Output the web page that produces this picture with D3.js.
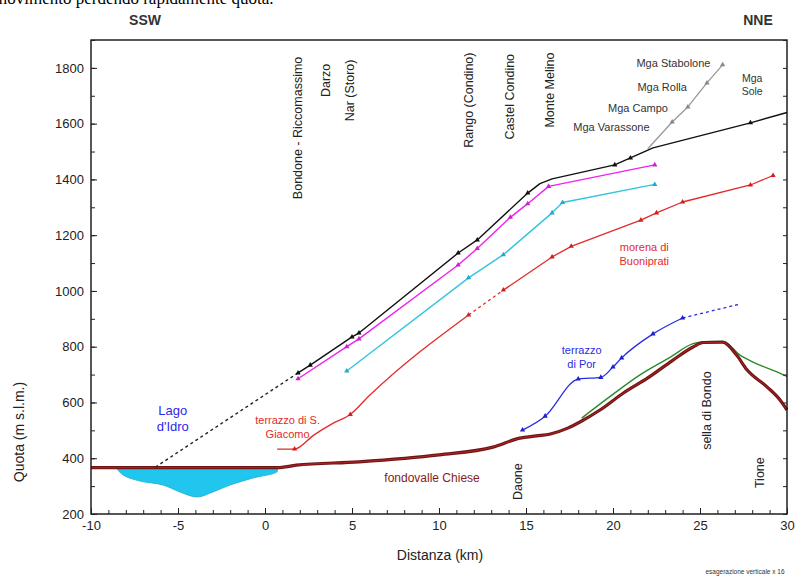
<!DOCTYPE html>
<html>
<head>
<meta charset="utf-8">
<script src="https://cdn.jsdelivr.net/npm/d3@7"></script>
<style>
  body { margin: 0; background: #fff; }
  svg { font-family: "Liberation Sans", Arial, sans-serif; }
</style>
</head>
<body>
<svg width="795" height="578"></svg>
<script>
// profile data: [distance km, quota m]
var fondovalle = [[-10,366],[0.7,366],[1.8,375],[5.4,387],[10.0,412],[13.1,440],[14.65,472],[15.6,480],[16.4,487],
  [17.4,508],[18.1,530],[19.25,573],[20.6,634],[22.0,688],[23.45,752],[24.6,799],[25.2,815],[26.3,816],
  [27.1,770],[27.7,717],[28.85,656],[29.6,609],[30,573]];
var verde = [[18.2,544],[19.8,620],[21.55,699],[23.3,763],[24.6,811],[25.2,818],[26.3,820],[27.3,770],[28.05,745],[29.8,699],[30,693]];
var lago = [[-8.56,366],[-8.16,340],[-7.18,318],[-5.86,304],[-4.89,279],[-3.91,261],[-2.99,279],[-2.01,304],[-0.69,329],[0.7,352],[0.7,366]];

var nero = [[1.9,706],[2.6,734],[5.0,835],[5.4,849],[11.1,1136],[12.2,1183],[15.1,1351],[15.8,1385],[16.5,1402],
  [20.1,1452],[21.0,1477],[22.3,1513],[27.9,1603],[30,1640]];
var neroTratt = [[-6.3,368],[1.9,706]];
var nastri = [[1.9,706],[2.6,734],[5.0,835],[5.4,849],[11.1,1136],[12.2,1183],[15.1,1351],[20.1,1452],[21.0,1477],[27.9,1603]];
var magenta = [[1.9,685],[4.7,800],[5.4,828],[11.1,1093],[12.2,1152],[14.1,1264],[15.1,1313],[16.3,1375],[22.4,1452]];
var ciano = [[4.7,713],[11.7,1047],[13.7,1130],[16.5,1280],[17.1,1317],[22.4,1382]];
var rosso1 = [[0.7,433],[1.7,433],[2.8,483],[3.9,525],[4.9,557],[6.0,625],[11.7,914]];
var rossoTratt = [[11.7,914],[13.7,1003]];
var rosso2 = [[13.7,1003],[16.5,1122],[17.6,1160],[21.6,1254],[22.5,1280],[24.0,1319],[27.9,1380],[29.2,1414]];
var rossoPunti = [[1.7,433],[4.9,557],[11.7,914],[13.7,1003],[16.5,1122],[17.6,1160],[21.6,1254],[22.5,1280],[24.0,1319],[27.9,1380],[29.2,1414]];
var blu = [[14.8,501],[16.1,551],[18.0,684],[19.3,690],[20.0,727],[20.5,760],[22.3,846],[24.0,903]];
var bluTratt = [[24.0,903],[27.3,953]];
var grigio = [[22.0,1510],[23.4,1606],[24.3,1660],[25.4,1746],[26.3,1811]];

var localita = [["Bondone - Riccomassimo",1.9,1840],["Darzo",3.5,1815],["Nar (Storo)",4.9,1830],
  ["Rango (Condino)",11.7,1855],["Castel Condino",14.1,1850],["Monte Melino",16.4,1855]];
var localitaBasso = [["Daone",14.55,250],["sella di Bondo",25.4,430],["Tione",28.45,293]];
var malghe = [["Mga Stabolone",25.6,1803],["Mga Rolla",24.25,1717],["Mga Campo",23.16,1642],["Mga Varassone",22.1,1574]];

var xTicks = d3.range(-10, 31, 5), xMinor = d3.range(-10, 31, 1);
var yTicks = d3.range(200, 1801, 200), yMinor = d3.range(200, 1901, 100);

var svg = d3.select("svg");
var x = d3.scaleLinear().domain([-10, 30]).range([91, 787]);
var y = d3.scaleLinear().domain([200, 1900]).range([514, 40]);
var line = d3.line().x(function(d) { return x(d[0]); }).y(function(d) { return y(d[1]); });
var smooth = d3.line().x(function(d) { return x(d[0]); }).y(function(d) { return y(d[1]); }).curve(d3.curveMonotoneX);
var rounded = d3.line().x(function(d) { return x(d[0]); }).y(function(d) { return y(d[1]); }).curve(d3.curveCatmullRom);

// clipped text line of the page above
svg.append("text").attr("x", -6).attr("y", 4)
    .style("font-family", "'Liberation Serif', serif").style("font-size", "17px")
    .text("movimento perdendo rapidamente quota.");

svg.append("text").attr("x", 145).attr("y", 25).attr("text-anchor", "middle")
    .style("font-weight", "bold").style("font-size", "14px").attr("fill", "#333").text("SSW");
svg.append("text").attr("x", 758).attr("y", 25).attr("text-anchor", "middle")
    .style("font-weight", "bold").style("font-size", "14px").attr("fill", "#333").text("NNE");

var g = svg.append("g");

// lake
g.append("path").attr("d", rounded(lago) + "Z")
    .attr("fill", "#20c6ee").attr("stroke", "#1aa9d0").attr("stroke-width", 0.8);

function draw(data, color, w, dash, curve) {
  g.append("path").datum(data)
      .attr("d", curve ? smooth(data) : line(data))
      .attr("fill", "none").attr("stroke", color).attr("stroke-width", w)
      .attr("stroke-dasharray", dash || null).attr("stroke-linejoin", "round");
}
function marks(data, color) {
  g.selectAll(null).data(data).enter().append("path")
      .attr("transform", function(d) { return "translate(" + x(d[0]) + "," + y(d[1]) + ")"; })
      .attr("d", d3.symbol().type(d3.symbolTriangle).size(12))
      .attr("fill", color);
}

draw(verde, "#2a8a2a", 1.4, null, true);
draw(fondovalle, "#6e1414", 3.2, null, true);
draw(fondovalle, "#c02828", 0.8, null, true);

draw(grigio, "#999", 1.3);
marks(grigio.slice(1), "#888");
draw(neroTratt, "#222", 1.4, "3,3");
draw(nero, "#111", 1.4);
marks(nastri, "#111");
draw(magenta, "#ee22ee", 1.4);
marks(magenta, "#cc22cc");
draw(ciano, "#33c4e0", 1.4);
marks(ciano, "#22a8c8");
draw(rosso1, "#e42a2a", 1.3, null, true);
draw(rossoTratt, "#e42a2a", 1.3, "3,3");
draw(rosso2, "#e42a2a", 1.3);
marks(rossoPunti, "#d02020");
draw(blu, "#2a2ae6", 1.3, null, true);
draw(bluTratt, "#2a2ae6", 1.3, "3,3");
marks(blu, "#2020cc");

// frame and axes
svg.append("rect").attr("x", 91).attr("y", 40).attr("width", 696).attr("height", 474)
    .attr("fill", "none").attr("stroke", "#111").attr("stroke-width", 1.4);

var fmt = function(d) { return String(d); };
var ax = svg.append("g").attr("transform", "translate(0,514)");
ax.call(d3.axisBottom(x).tickValues(xMinor).tickSizeInner(-4).tickSizeOuter(0).tickFormat(""));
ax.select(".domain").remove();
var ax2 = svg.append("g").attr("transform", "translate(0,514)");
ax2.call(d3.axisBottom(x).tickValues(xTicks).tickSizeInner(-6).tickSizeOuter(0).tickPadding(7).tickFormat(fmt));
ax2.select(".domain").remove();

var ay = svg.append("g").attr("transform", "translate(91,0)");
ay.call(d3.axisLeft(y).tickValues(yMinor).tickSizeInner(-4).tickSizeOuter(0).tickFormat(""));
ay.select(".domain").remove();
var ay2 = svg.append("g").attr("transform", "translate(91,0)");
ay2.call(d3.axisLeft(y).tickValues(yTicks).tickSizeInner(-6).tickSizeOuter(0).tickPadding(7).tickFormat(fmt));
ay2.select(".domain").remove();
var ayr = svg.append("g").attr("transform", "translate(787,0)");
ayr.call(d3.axisRight(y).tickValues(yMinor).tickSizeInner(-4).tickSizeOuter(0).tickFormat(""));
ayr.select(".domain").remove();

svg.selectAll(".tick text").style("font-family", "'Liberation Sans', Arial, sans-serif")
    .style("font-size", "13px").attr("fill", "#222");
svg.selectAll(".tick line").attr("stroke", "#222");

svg.append("text").attr("transform", "translate(24,432) rotate(-90)").attr("text-anchor", "middle")
    .style("font-size", "14px").attr("fill", "#222").text("Quota (m s.l.m.)");
svg.append("text").attr("x", 440).attr("y", 560).attr("text-anchor", "middle")
    .style("font-size", "14px").attr("fill", "#222").text("Distanza (km)");
svg.append("text").attr("x", 745).attr("y", 574).attr("text-anchor", "middle")
    .style("font-size", "6.5px").attr("fill", "#333").text("esagerazione verticale x 16");

// place names
function vlabel(d, anchor) {
  svg.append("text")
      .attr("transform", "translate(" + (x(d[1]) + 4) + "," + y(d[2]) + ") rotate(-90)")
      .attr("text-anchor", anchor).style("font-size", "12.5px").attr("fill", "#222").text(d[0]);
}
localita.forEach(function(d) { vlabel(d, "end"); });
localitaBasso.forEach(function(d) { vlabel(d, "start"); });

malghe.forEach(function(d) {
  svg.append("text").attr("x", x(d[1])).attr("y", y(d[2])).attr("text-anchor", "end")
      .style("font-size", "11px").attr("fill", "#333").text(d[0]);
});

function block(lines, cx, cy, color, size) {
  lines.forEach(function(t, i) {
    svg.append("text").attr("x", x(cx)).attr("y", y(cy) + i * (size + 3)).attr("text-anchor", "middle")
        .style("font-size", size + "px").attr("fill", color).text(t);
  });
}
block(["Mga", "Sole"], 28.0, 1750, "#333", 10.5);
block(["Lago", "d'Idro"], -5.3, 555, "#2a2ae6", 13);
block(["terrazzo di S.", "Giacomo"], 1.3, 523, "#e42a2a", 11);
block(["fondovalle Chiese"], 9.6, 315, "#8a1a1a", 12);
block(["morena di", "Buoniprati"], 21.8, 1143, "#e42a2a", 11);
block(["terrazzo", "di Por"], 18.2, 775, "#2a2ae6", 11);
</script>
</body>
</html>
